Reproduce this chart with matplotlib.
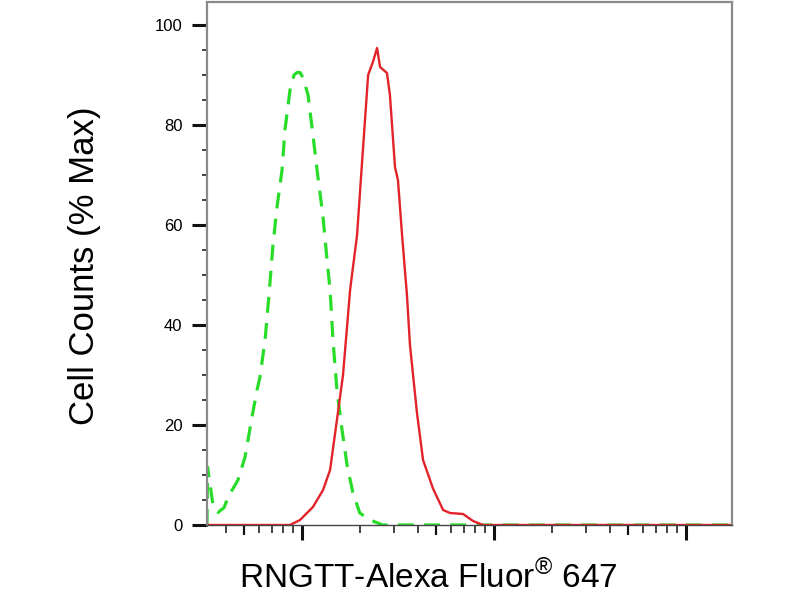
import matplotlib
matplotlib.use('Agg')
import matplotlib.pyplot as plt
import numpy as np

plt.rcParams['font.family'] = ['Liberation Sans', 'DejaVu Sans']
plt.rcParams['mathtext.fontset'] = 'custom'
plt.rcParams['mathtext.rm'] = 'Liberation Sans'

# histogram: fluorescence intensity vs % of max
red_x = [32, 86.6, 97.6, 114, 128.7, 140, 152, 163.5, 178, 193.5, 205, 221, 234,
         246, 255, 277, 287, 305, 316, 332, 352, 365, 397, 427, 481, 543, 590,
         690, 778, 876, 17360]
red_y = [0, 0, 1, 3.6, 7, 11, 21, 30, 47, 58, 72, 90, 92.6,
         95.4, 91.6, 90.4, 86, 71.6, 69, 58, 46, 36, 22.4, 13, 7.3, 3, 2.4,
         2.2, 0.8, 0, 0]

# isotype control (dashed green)
green_x = [32, 32.2, 34.4, 36.5, 39.3, 41.2, 46.4, 50.5, 54.9, 58.3, 60.4, 64.2,
           67.3, 70.6, 74.1, 78.7, 81.5, 86.6, 90.9, 94.2, 97.6, 101.2, 107.5,
           114, 121, 128.7, 135, 140, 145, 152, 161.6, 171.6, 184, 200, 226,
           264, 17360]
green_y = [0, 11.6, 4.0, 2.5, 3.5, 5.6, 9, 13.6, 21.6, 27, 29.6, 37,
           46, 56, 63.6, 71, 79, 87, 90, 90.5, 90.5, 89.5, 86,
           78, 69.6, 61.6, 53, 47, 37, 27, 19, 12, 6.5, 2.4, 1,
           0, 0]

y_major = [0, 20, 40, 60, 80, 100]
y_labels = ['0', '20', '40', '60', '80', '100']

fig = plt.figure(figsize=(8, 6), dpi=100)
ax = fig.add_axes([207 / 800, 75 / 600, 525 / 800, 523 / 600])

ax.plot(green_x, green_y, color='#2adc2a', lw=2.3, linestyle=(0, (5, 3.2)))
ax.plot(red_x, red_y, color='#e2232a', lw=1.7)

ax.set_xscale('log')

ax.set_xticks([100, 1000, 10000], labels=['', '', ''])
minors = [m * 10 ** d for d in (1, 2, 3) for m in (4, 2, 3, 6, 7, 8, 9)]
minors = [v for v in minors if 32 < v < 17360]
ax.set_xticks(minors, minor=True)
ax.set_xticklabels([], minor=True)
ax.set_xlim(32, 17360)

ax.set_yticks(y_major, labels=y_labels)
ax.set_yticks(np.arange(5, 105, 5), minor=True)
ax.set_ylim(0, 104.6)

ax.tick_params(axis='both', which='major', direction='out', length=10.8, width=2.2,
               color='#111111', labelsize=12, pad=7)
ax.tick_params(axis='y', which='minor', direction='out', length=3.6, width=1.1,
               color='#111111')
ax.tick_params(axis='x', which='minor', direction='out', length=5.5, width=1.1,
               color='#111111')

# slightly longer ticks at the 5x positions
sec = ax.secondary_xaxis('bottom')
sec.set_xticks([50, 500, 5000], labels=['', '', ''])
sec.set_xticks([], minor=True)
sec.tick_params(direction='out', length=7.5, width=1.6, color='#111111')
sec.spines['bottom'].set_visible(False)

for side in ['left', 'right', 'top']:
    ax.spines[side].set_color('#8a8a8a')
    ax.spines[side].set_linewidth(1.6)
ax.spines['bottom'].set_color('#444444')
ax.spines['bottom'].set_linewidth(1.0)

fig.text(85 / 800, 1 - 266 / 600, 'Cell Counts (% Max)', rotation=90,
         ha='center', va='center', fontsize=25)
fig.text(428 / 800, 1 - 578 / 600, 'RNGTT-Alexa Fluor$^{®}$ 647',
         ha='center', va='center', fontsize=24)

fig.savefig('out.png', dpi=100)
